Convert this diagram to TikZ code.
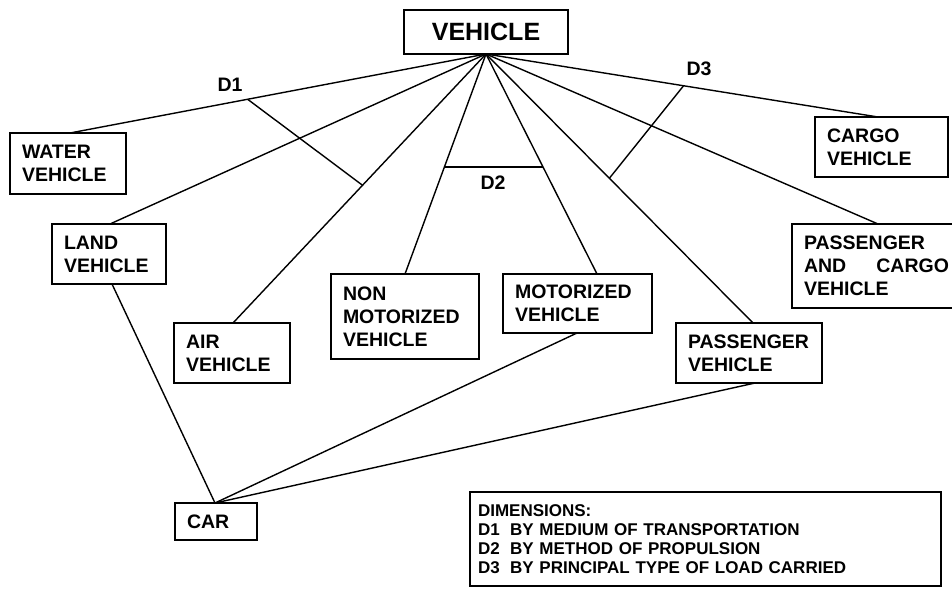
\documentclass[tikz,border=0pt]{standalone}
\usepackage{fontspec}
\setmainfont{Liberation Sans}
\usetikzlibrary{calc}

\begin{document}
\begin{tikzpicture}
[
  x=1pt, y=-1pt,
  box/.style={draw,line width=1.6pt,outer sep=0pt,anchor=north west,align=left,
    inner xsep=12pt,inner ysep=0pt,font=\fontsize{19.5}{23}\selectfont\bfseries},
  con/.style={line width=1.4pt},
  dim/.style={font=\fontsize{19.5}{23}\selectfont\bfseries}
]
\useasboundingbox (0,0) rectangle (952,589);

% classes
\node[box,align=center,inner xsep=0pt,minimum width=164pt,minimum height=44pt,
  font=\fontsize{25}{28}\selectfont\bfseries] (vehicle) at (404,10) {VEHICLE};
\node[box,text width=92pt,minimum height=61pt] (water) at (10,133) {WATER\\VEHICLE};
\node[box,text width=90pt,minimum height=60pt] (land) at (52,224) {LAND\\VEHICLE};
\node[box,text width=92pt,minimum height=60pt] (air) at (174,323) {AIR\\VEHICLE};
\node[box,text width=124pt,minimum height=85pt] (nonmot) at (331,274) {NON\\MOTORIZED\\VEHICLE};
\node[box,text width=125pt,minimum height=59pt] (mot) at (503,274) {MOTORIZED\\VEHICLE};
\node[box,text width=122pt,minimum height=60pt] (pass) at (676,323) {PASSENGER\\VEHICLE};
\node[box,text width=145pt,minimum height=84pt] (pascargo) at (792,224) {PASSENGER\\AND\hfill CARGO\\VEHICLE};
\node[box,text width=109pt,minimum height=60pt] (cargo) at (815,117) {CARGO\\VEHICLE};
\node[box,text width=58pt,minimum height=37pt] (car) at (175,503) {CAR};

% legend
\node[box,inner xsep=8pt,text width=455pt,minimum height=94pt,
  font=\fontsize{17}{19}\selectfont\bfseries] (legend) at (470,492)
  {DIMENSIONS:\\
   D1\hspace{10.5pt}BY MEDIUM OF TRANSPORTATION\\
   D2\hspace{10.5pt}BY METHOD OF PROPULSION\\
   D3\hspace{10.5pt}BY PRINCIPAL TYPE OF LOAD CARRIED};

% end points
\coordinate (hub) at (vehicle.south);
\coordinate (waterTop) at ($(water.north west)+(60,0)$);
\coordinate (landTop) at ($(land.north west)+(58,0)$);
\coordinate (airTop) at ($(air.north west)+(59,0)$);
\coordinate (nonmotTop) at ($(nonmot.north west)+(74,0)$);
\coordinate (motTop) at ($(mot.north west)+(94,0)$);
\coordinate (passTop) at ($(pass.north west)+(77,0)$);
\coordinate (pcTop) at ($(pascargo.north west)+(86,0)$);
\coordinate (cargoTop) at ($(cargo.north west)+(63,0)$);
\coordinate (landBot) at ($(land.south west)+(60,0)$);
\coordinate (motBot) at ($(mot.south west)+(74,0)$);
\coordinate (passBot) at ($(pass.south west)+(79,0)$);
\coordinate (carTop) at ($(car.north)+(-1,0)$);

% generalisations
\foreach \t in {waterTop,landTop,airTop,nonmotTop,motTop,passTop,pcTop,cargoTop}
  \draw[con] (hub) -- (\t);
\foreach \b in {landBot,motBot,passBot}
  \draw[con] (\b) -- (carTop);

% dimensions
\draw[con] ($(hub)!0.573!(waterTop)$) -- ($(hub)!0.488!(airTop)$);
\draw[con] ($(hub)!0.514!(nonmotTop)$) -- ($(hub)!0.514!(motTop)$);
\draw[con] ($(hub)!0.504!(cargoTop)$) -- ($(hub)!0.462!(passTop)$);

\node[dim] (d1) at (230,85) {D1};
\node[dim] (d2) at (493,183) {D2};
\node[dim] (d3) at (699,69) {D3};

\end{tikzpicture}
\end{document}
